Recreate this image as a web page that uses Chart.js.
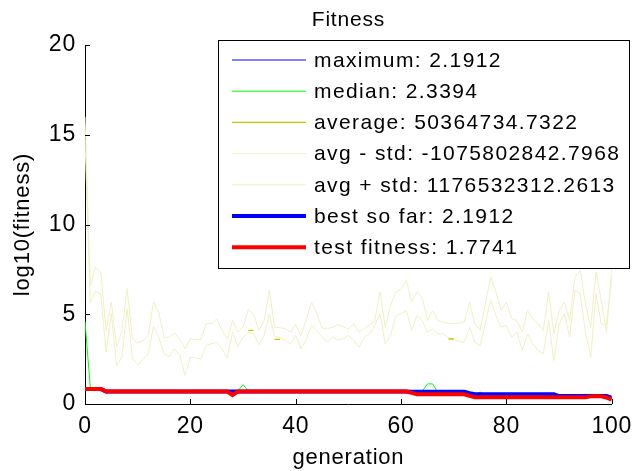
<!DOCTYPE html>
<html>
<head>
<meta charset="utf-8">
<script src="https://cdn.jsdelivr.net/npm/chart.js@4.4.1/dist/chart.umd.min.js"></script>
<style>
  html, body { margin: 0; padding: 0; background: #fff; }
  #wrap { width: 640px; height: 471px; }
</style>
</head>
<body>
<div id="wrap"><canvas id="chart" width="640" height="471"></canvas></div>
<script>
// generation index 0..100
const generations = Array.from({ length: 101 }, (_, i) => i);

const legendLabels = [
    "maximum: 2.1912",
    "median: 2.3394",
    "average: 50364734.7322",
    "avg - std: -1075802842.7968",
    "avg + std: 1176532312.2613",
    "best so far: 2.1912",
    "test fitness: 1.7741"
];

// log10 values
const maximum = [
    0.84, 0.84, 0.84, 0.84, 0.69, 0.69, 0.69, 0.69, 0.69, 0.69,
    0.69, 0.69, 0.69, 0.69, 0.69, 0.69, 0.69, 0.69, 0.69, 0.69,
    0.69, 0.69, 0.69, 0.69, 0.69, 0.69, 0.69, 0.69, 0.69, 0.69,
    0.69, 0.69, 0.69, 0.69, 0.69, 0.69, 0.69, 0.69, 0.69, 0.69,
    0.69, 0.69, 0.69, 0.69, 0.69, 0.69, 0.69, 0.69, 0.69, 0.69,
    0.69, 0.69, 0.69, 0.69, 0.69, 0.69, 0.69, 0.69, 0.69, 0.69,
    0.69, 0.69, 0.68, 0.68, 0.68, 0.68, 0.68, 0.68, 0.68, 0.68,
    0.68, 0.68, 0.68, 0.60, 0.54, 0.54, 0.54, 0.54, 0.54, 0.54,
    0.54, 0.54, 0.54, 0.54, 0.54, 0.54, 0.54, 0.54, 0.54, 0.54,
    0.44, 0.44, 0.44, 0.44, 0.44, 0.44, 0.44, 0.44, 0.44, 0.44,
    0.34
];

const median = [
    4.60, 0.95, 0.84, 0.80, 0.72, 0.72, 0.72, 0.72, 0.72, 0.72,
    0.72, 0.72, 0.72, 0.72, 0.72, 0.72, 0.72, 0.72, 0.72, 0.72,
    0.72, 0.72, 0.72, 0.72, 0.72, 0.72, 0.72, 0.72, 0.72, 0.72,
    1.08, 0.72, 0.72, 0.72, 0.72, 0.72, 0.72, 0.72, 0.72, 0.72,
    0.72, 0.72, 0.72, 0.72, 0.72, 0.72, 0.72, 0.72, 0.72, 0.72,
    0.72, 0.72, 0.72, 0.72, 0.72, 0.72, 0.72, 0.72, 0.72, 0.72,
    0.72, 0.72, 0.66, 0.66, 0.70, 1.12, 1.12, 0.62, 0.60, 0.60,
    0.60, 0.60, 0.58, 0.55, 0.55, 0.66, 0.52, 0.50, 0.50, 0.50,
    0.50, 0.50, 0.50, 0.50, 0.50, 0.50, 0.50, 0.50, 0.50, 0.50,
    0.42, 0.42, 0.42, 0.42, 0.42, 0.42, 0.42, 0.42, 0.42, 0.40,
    0.37
];

const average = [
    null, null, null, null, null, null, null, null, null, null,
    null, null, null, null, null, null, null, null, null, null,
    null, null, null, null, null, null, null, null, null, null,
    null, 4.10, 4.10, null, null, null, 3.60, 3.60, null, null,
    null, null, null, null, null, null, null, null, null, null,
    null, null, null, null, null, null, null, null, null, null,
    null, null, null, null, null, null, null, null, null, 3.62,
    3.62, null, null, null, null, null, null, null, null, null,
    null, null, null, null, null, null, null, null, null, null,
    null, null, null, null, null, null, null, null, null, null,
    null
];

const avgMinusStd = [
    14.70, 5.62, 6.29, 6.11, 2.88, 5.03, 2.14, 2.60, 5.31, 2.51,
    2.20, 2.46, 2.79, 4.32, 3.72, 2.79, 2.64, 3.07, 2.70, 1.58,
    2.60, 2.57, 2.51, 3.26, 3.35, 3.44, 3.07, 2.57, 4.00, 3.20,
    3.72, 4.00, 3.90, 3.30, 3.82, 5.00, 3.75, 3.70, 3.55, 3.35,
    3.82, 3.07, 3.60, 4.37, 4.10, 3.72, 3.44, 3.72, 3.55, 3.63,
    3.82, 3.54, 3.16, 3.72, 3.90, 4.37, 5.03, 3.35, 3.82, 4.93,
    5.03, 5.21, 4.10, 4.93, 4.65, 4.00, 4.20, 3.91, 3.91, 3.70,
    3.63, 3.50, 3.44, 4.28, 3.44, 3.26, 4.50, 5.77, 4.93, 4.28,
    4.37, 3.72, 4.00, 2.98, 3.91, 3.35, 2.98, 2.79, 4.65, 2.42,
    4.47, 5.03, 3.72, 6.33, 6.14, 4.00, 2.60, 6.14, 4.47, 4.40,
    7.07
];

const avgPlusStd = [
    16.00, 6.60, 7.60, 7.35, 4.10, 5.68, 3.16, 4.10, 6.42, 3.63,
    3.39, 3.54, 3.82, 5.68, 5.12, 3.72, 3.72, 3.95, 3.63, 3.07,
    3.63, 3.57, 3.59, 4.50, 4.47, 4.75, 4.10, 3.63, 4.65, 4.00,
    4.28, 5.25, 5.03, 4.10, 4.65, 6.33, 4.28, 4.25, 4.19, 4.00,
    4.43, 3.82, 4.70, 5.68, 5.03, 4.24, 4.19, 4.28, 4.43, 4.30,
    4.19, 4.47, 4.00, 4.19, 4.40, 4.65, 6.24, 4.28, 5.49, 6.24,
    6.42, 6.89, 5.68, 6.24, 5.96, 4.65, 5.20, 4.65, 4.56, 4.50,
    4.47, 4.50, 4.56, 5.68, 4.47, 4.10, 5.60, 7.07, 6.24, 5.21,
    5.68, 4.75, 4.65, 4.00, 5.21, 4.75, 4.47, 4.10, 6.24, 3.91,
    5.21, 5.68, 4.65, 7.07, 7.45, 5.59, 4.28, 7.35, 5.77, 4.00,
    7.60
];

const bestSoFar = [
    0.84, 0.84, 0.84, 0.84, 0.69, 0.69, 0.69, 0.69, 0.69, 0.69,
    0.69, 0.69, 0.69, 0.69, 0.69, 0.69, 0.69, 0.69, 0.69, 0.69,
    0.69, 0.69, 0.69, 0.69, 0.69, 0.69, 0.69, 0.69, 0.69, 0.69,
    0.69, 0.69, 0.69, 0.69, 0.69, 0.69, 0.69, 0.69, 0.69, 0.69,
    0.69, 0.69, 0.69, 0.69, 0.69, 0.69, 0.69, 0.69, 0.69, 0.69,
    0.69, 0.69, 0.69, 0.69, 0.69, 0.69, 0.69, 0.69, 0.69, 0.69,
    0.69, 0.69, 0.68, 0.68, 0.68, 0.68, 0.68, 0.68, 0.68, 0.68,
    0.68, 0.68, 0.68, 0.60, 0.54, 0.54, 0.54, 0.54, 0.54, 0.54,
    0.54, 0.54, 0.54, 0.54, 0.54, 0.54, 0.54, 0.54, 0.54, 0.54,
    0.44, 0.44, 0.44, 0.44, 0.44, 0.44, 0.44, 0.44, 0.44, 0.44,
    0.34
];

const testFitness = [
    0.84, 0.84, 0.84, 0.84, 0.69, 0.69, 0.69, 0.69, 0.69, 0.69,
    0.69, 0.69, 0.69, 0.69, 0.69, 0.69, 0.69, 0.69, 0.69, 0.69,
    0.69, 0.69, 0.69, 0.69, 0.69, 0.69, 0.69, 0.69, 0.50, 0.69,
    0.69, 0.69, 0.69, 0.69, 0.69, 0.69, 0.69, 0.69, 0.69, 0.69,
    0.69, 0.69, 0.69, 0.69, 0.69, 0.69, 0.69, 0.69, 0.69, 0.69,
    0.69, 0.69, 0.69, 0.69, 0.69, 0.69, 0.69, 0.69, 0.69, 0.69,
    0.69, 0.69, 0.62, 0.54, 0.54, 0.54, 0.54, 0.54, 0.54, 0.54,
    0.54, 0.54, 0.54, 0.45, 0.37, 0.37, 0.37, 0.37, 0.37, 0.37,
    0.37, 0.37, 0.37, 0.37, 0.37, 0.37, 0.37, 0.37, 0.37, 0.37,
    0.37, 0.37, 0.37, 0.37, 0.37, 0.37, 0.43, 0.43, 0.43, 0.36,
    0.25
];

const xTicks = [0, 20, 40, 60, 80, 100];
const yTicks = [0, 5, 10, 15, 20];

const FONT = "'Liberation Sans', Arial, Helvetica, sans-serif";

// the original text is a little wider than Liberation Sans
const wideText = {
    id: 'wideText',
    beforeDraw(chart)
    {
        chart.ctx.letterSpacing = '0.8px';
    }
};

// inward tick marks like the original figure
const tickMarks = {
    id: 'tickMarks',
    afterDatasetsDraw(chart)
    {
        const { ctx, chartArea, scales } = chart;
        ctx.save();
        ctx.strokeStyle = '#000';
        ctx.lineWidth = 1;
        ctx.beginPath();
        xTicks.forEach(v => {
            let px = Math.round(scales.x.getPixelForValue(v)) + 0.5;
            ctx.moveTo(px, chartArea.bottom);
            ctx.lineTo(px, chartArea.bottom - 5);
        });
        yTicks.forEach(v => {
            let py = Math.round(scales.y.getPixelForValue(v)) + 0.5;
            ctx.moveTo(chartArea.left, py);
            ctx.lineTo(chartArea.left + 5, py);
        });
        ctx.stroke();
        ctx.restore();
    }
};

// boxed legend in the upper right, drawn over the lines
const boxLegend = {
    id: 'boxLegend',
    afterDraw(chart)
    {
        const ctx = chart.ctx;
        const left = 218.5, top = 40.5, right = 629.5, bottom = 268.5;
        ctx.save();
        ctx.fillStyle = '#fff';
        ctx.fillRect(left, top, right - left, bottom - top);
        ctx.strokeStyle = '#000';
        ctx.lineWidth = 1;
        ctx.strokeRect(left, top, right - left, bottom - top);

        ctx.font = "21px " + FONT;
        ctx.letterSpacing = '1.4px';
        ctx.textBaseline = 'middle';
        ctx.fillStyle = '#000';
        chart.data.datasets.forEach((ds, i) => {
            let y = 60 + i * 31.2;
            ctx.strokeStyle = ds.borderColor;
            ctx.lineWidth = ds.borderWidth;
            ctx.beginPath();
            ctx.moveTo(232, y);
            ctx.lineTo(306, y);
            ctx.stroke();
            ctx.fillText(ds.label, 314, y + 1);
        });
        ctx.restore();
    }
};

function makeSet(label, data, color, width, order)
{
    return {
        label: label,
        data: data,
        borderColor: color,
        backgroundColor: color,
        borderWidth: width,
        pointRadius: 0,
        tension: 0,
        fill: false,
        spanGaps: false,
        order: order
    };
}

let chartElement = document.getElementById('chart').getContext('2d');

let fitnessChart = new Chart(chartElement,
    {
        type: 'line',
        data:
            {
                labels: generations,
                datasets:
                    [
                        makeSet(legendLabels[0], maximum, '#0000ff', 1, 6),
                        makeSet(legendLabels[1], median, '#00ff00', 1, 5),
                        makeSet(legendLabels[2], average, '#c8c800', 1.3, 2),
                        makeSet(legendLabels[3], avgMinusStd, '#f0f0c4', 1, 4),
                        makeSet(legendLabels[4], avgPlusStd, '#f0f0c4', 1, 3),
                        makeSet(legendLabels[5], bestSoFar, '#0000ff', 4, 1),
                        makeSet(legendLabels[6], testFitness, '#ff0000', 4, 0)
                    ]
            },
        options:
            {
                responsive: false,
                animation: false,
                layout: { padding: { left: 0, right: 20, top: 0, bottom: 0 } },
                plugins:
                    {
                        legend: { display: false },
                        tooltip: { enabled: false },
                        title:
                            {
                                display: true,
                                text: 'Fitness',
                                fullSize: false,
                                color: '#000',
                                font: { family: FONT, size: 21, weight: 'normal', lineHeight: 1.2 },
                                padding: { top: 8, bottom: 11.8 }
                            }
                    },
                scales:
                    {
                        x:
                            {
                                type: 'linear',
                                min: 0,
                                max: 100,
                                afterFit: s => { s.height = 67; },
                                afterBuildTicks: s => { s.ticks = xTicks.map(v => ({ value: v })); },
                                grid: { display: false, drawTicks: false },
                                border: { display: true, color: '#000', width: 1 },
                                ticks: { color: '#000', padding: 9, maxRotation: 0, font: { family: FONT, size: 23 } },
                                title:
                                    {
                                        display: true,
                                        text: 'generation',
                                        color: '#000',
                                        font: { family: FONT, size: 22 },
                                        padding: { top: 0, bottom: 0 }
                                    }
                            },
                        y:
                            {
                                min: 0,
                                max: 20,
                                afterFit: s => { s.width = 85; },
                                afterBuildTicks: s => { s.ticks = yTicks.map(v => ({ value: v })); },
                                grid: { display: false, drawTicks: false },
                                border: { display: true, color: '#000', width: 1 },
                                ticks: { color: '#000', padding: 9, font: { family: FONT, size: 23 } },
                                title:
                                    {
                                        display: true,
                                        text: 'log10(fitness)',
                                        color: '#000',
                                        font: { family: FONT, size: 22 },
                                        padding: { top: 10, bottom: 0 }
                                    }
                            }
                    }
            },
        plugins: [wideText, tickMarks, boxLegend]
    });
</script>
</body>
</html>
